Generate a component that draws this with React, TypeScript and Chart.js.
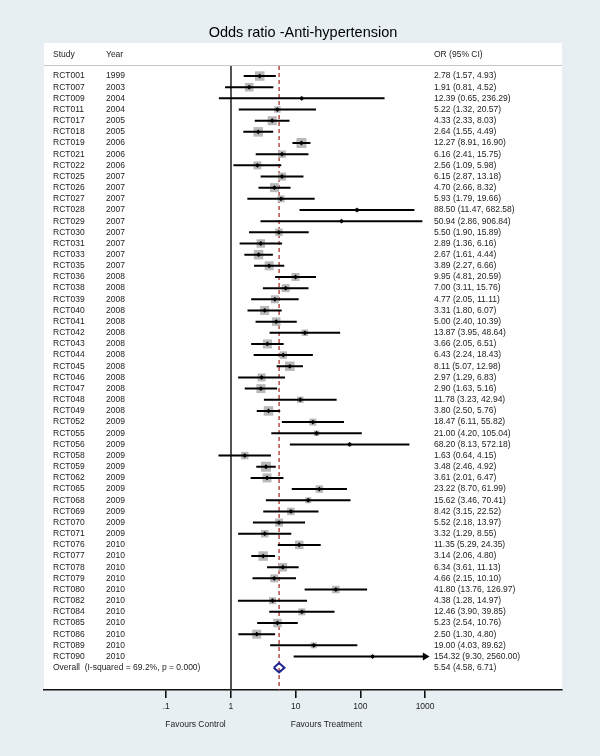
import React, { useEffect, useRef } from 'react';
import { Chart, registerables } from 'chart.js';

Chart.register(...registerables);

// ---------------- data ----------------
const chartTitle = 'Odds ratio -Anti-hypertension';
const headerLabels = ['Study', 'Year', 'OR (95% CI)'];

const studies = [
  'RCT001', 'RCT007', 'RCT009', 'RCT011', 'RCT017', 'RCT018', 'RCT019', 'RCT021', 'RCT022',
  'RCT025', 'RCT026', 'RCT027', 'RCT028', 'RCT029', 'RCT030', 'RCT031', 'RCT033', 'RCT035',
  'RCT036', 'RCT038', 'RCT039', 'RCT040', 'RCT041', 'RCT042', 'RCT043', 'RCT044', 'RCT045',
  'RCT046', 'RCT047', 'RCT048', 'RCT049',
  'RCT052', 'RCT055', 'RCT056', 'RCT058', 'RCT059', 'RCT062', 'RCT065', 'RCT068', 'RCT069',
  'RCT070', 'RCT071',
  'RCT076', 'RCT077', 'RCT078', 'RCT079', 'RCT080', 'RCT082', 'RCT084', 'RCT085', 'RCT086',
  'RCT089', 'RCT090',
];

const years = [
  1999, 2003, 2004, 2004, 2005, 2005, 2006, 2006, 2006,
  2007, 2007, 2007, 2007, 2007, 2007, 2007, 2007, 2007,
  2008, 2008, 2008, 2008, 2008, 2008, 2008, 2008, 2008,
  2008, 2008, 2008, 2008,
  2009, 2009, 2009, 2009, 2009, 2009, 2009, 2009, 2009,
  2009, 2009,
  2010, 2010, 2010, 2010, 2010, 2010, 2010, 2010, 2010,
  2010, 2010,
];

const oddsRatios = [
  2.78, 1.91, 12.39, 5.22, 4.33, 2.64, 12.27, 6.16, 2.56,
  6.15, 4.70, 5.93, 88.50, 50.94, 5.50, 2.89, 2.67, 3.89,
  9.95, 7.00, 4.77, 3.31, 5.00, 13.87, 3.66, 6.43, 8.11,
  2.97, 2.90, 11.78, 3.80,
  18.47, 21.00, 68.20, 1.63, 3.48, 3.61, 23.22, 15.62, 8.42,
  5.52, 3.32,
  11.35, 3.14, 6.34, 4.66, 41.80, 4.38, 12.46, 5.23, 2.50,
  19.00, 154.32,
];

const ciLower = [
  1.57, 0.81, 0.65, 1.32, 2.33, 1.55, 8.91, 2.41, 1.09,
  2.87, 2.66, 1.79, 11.47, 2.86, 1.90, 1.36, 1.61, 2.27,
  4.81, 3.11, 2.05, 1.80, 2.40, 3.95, 2.05, 2.24, 5.07,
  1.29, 1.63, 3.23, 2.50,
  6.11, 4.20, 8.13, 0.64, 2.46, 2.01, 8.70, 3.46, 3.15,
  2.18, 1.29,
  5.29, 2.06, 3.61, 2.15, 13.76, 1.28, 3.90, 2.54, 1.30,
  4.03, 9.30,
];

const ciUpper = [
  4.93, 4.52, 236.29, 20.57, 8.03, 4.49, 16.90, 15.75, 5.98,
  13.18, 8.32, 19.66, 682.58, 906.84, 15.89, 6.16, 4.44, 6.66,
  20.59, 15.76, 11.11, 6.07, 10.39, 48.64, 6.51, 18.43, 12.98,
  6.83, 5.16, 42.94, 5.76,
  55.82, 105.04, 572.18, 4.15, 4.92, 6.47, 61.99, 70.41, 22.52,
  13.97, 8.55,
  24.35, 4.80, 11.13, 10.10, 126.97, 14.97, 39.85, 10.76, 4.80,
  89.62, 2560.00,
];

// study weights (%), estimated from the size of the grey boxes
const weights = [
  2.20, 1.76, 0.30, 1.03, 1.98, 2.20, 2.44, 1.37, 1.56,
  1.56, 1.98, 1.20, 0.39, 0.22, 1.37, 1.76, 2.20, 1.98,
  1.56, 1.56, 1.56, 1.98, 1.76, 1.03, 1.98, 1.37, 2.20,
  1.56, 1.98, 1.03, 2.20,
  1.20, 0.74, 0.39, 1.37, 2.44, 1.98, 1.37, 0.88, 1.37,
  1.56, 1.37,
  1.76, 2.20, 1.76, 1.56, 1.37, 1.20, 1.20, 1.76, 1.98,
  0.88, 0.22,
];

const overallLabel = 'Overall  (I-squared = 69.2%, p = 0.000)';
const overallOR = 5.54;
const overallLower = 4.58;
const overallUpper = 6.71;

const tickValues = [0.1, 1, 10, 100, 1000];
const tickLabels = ['.1', '1', '10', '100', '1000'];
const favoursLabels = ['Favours Control', 'Favours Treatment'];
const nullValue = 1;
const axisUpperLimit = 1000;

// ---------------- layout / style ----------------
const W = 600;
const H = 756;
const BG = '#e7eff2';
const FONT = '"Liberation Sans", Arial, Helvetica, sans-serif';
const TEXT = '#222222';
const X_MIN = Math.pow(10, -2.89);
const X_MAX = Math.pow(10, 5.116);
const Y_MIN = -0.9;
const Y_MAX = 55;
const PANEL_TOP = 43;

const fmt = (v: number) => v.toFixed(2);

export default function App() {
  const ref = useRef<HTMLCanvasElement | null>(null);

  useEffect(() => {
    document.body.style.margin = '0';
    const canvas = ref.current;
    if (!canvas) return;

    const n = studies.length;
    const overallRow = n;

    const ciData: any[] = [];
    studies.forEach((_, i) => {
      ciData.push({ x: ciLower[i], y: i });
      ciData.push({ x: Math.min(ciUpper[i], axisUpperLimit), y: i });
      ciData.push({ x: null, y: null });
    });
    const pointData = oddsRatios.map((v, i) => ({ x: v, y: i }));
    const boxRadius = weights.map((w) => 4.53 * Math.sqrt(w));
    const arrowData = ciUpper
      .map((v, i) => (v > axisUpperLimit ? { x: axisUpperLimit, y: i } : null))
      .filter((p) => p !== null);
    const dh = 0.42;
    const diamond = [
      { x: overallLower, y: overallRow },
      { x: overallOR, y: overallRow - dh },
      { x: overallUpper, y: overallRow },
      { x: overallOR, y: overallRow + dh },
      { x: overallLower, y: overallRow },
    ];

    const decor = {
      id: 'decor',
      beforeDraw(chart: any) {
        const { ctx, chartArea: a } = chart;
        ctx.save();
        ctx.fillStyle = BG;
        ctx.fillRect(0, 0, W, H);
        ctx.fillStyle = '#ffffff';
        ctx.fillRect(a.left, PANEL_TOP, a.right - a.left, a.bottom - PANEL_TOP);
        ctx.strokeStyle = '#c8c8c8';
        ctx.lineWidth = 1;
        ctx.beginPath();
        ctx.moveTo(a.left, a.top - 0.5);
        ctx.lineTo(a.right, a.top - 0.5);
        ctx.stroke();
        ctx.restore();
      },
      afterDraw(chart: any) {
        const { ctx, chartArea: a } = chart;
        const ys = chart.scales.y;
        const xs = chart.scales.x;
        const colStudy = a.left + 9;
        const colYear = a.left + 62;
        const colOR = a.left + 390;
        ctx.save();
        ctx.fillStyle = '#000';
        ctx.textBaseline = 'middle';
        ctx.textAlign = 'center';
        ctx.font = `14.5px ${FONT}`;
        ctx.fillText(chartTitle, (a.left + a.right) / 2, 33);

        ctx.fillStyle = TEXT;
        ctx.textAlign = 'left';
        ctx.font = `8.5px ${FONT}`;
        const hy = 54.5;
        ctx.fillText(headerLabels[0], colStudy, hy);
        ctx.fillText(headerLabels[1], colYear, hy);
        ctx.fillText(headerLabels[2], colOR, hy);

        studies.forEach((s, i) => {
          const y = ys.getPixelForValue(i);
          ctx.fillText(s, colStudy, y);
          ctx.fillText(String(years[i]), colYear, y);
          ctx.fillText(`${fmt(oddsRatios[i])} (${fmt(ciLower[i])}, ${fmt(ciUpper[i])})`, colOR, y);
        });
        const oy = ys.getPixelForValue(overallRow);
        ctx.fillText(overallLabel, colStudy, oy);
        ctx.fillText(`${fmt(overallOR)} (${fmt(overallLower)}, ${fmt(overallUpper)})`, colOR, oy);

        const fy = 725;
        ctx.fillText(favoursLabels[0], xs.getPixelForValue(tickValues[0]) - 1, fy);
        ctx.fillText(favoursLabels[1], xs.getPixelForValue(tickValues[2]) - 5, fy);
        ctx.restore();
      },
    };

    const chart = new Chart(canvas, {
      type: 'scatter',
      data: {
        datasets: [
          {
            label: 'null line',
            data: [{ x: nullValue, y: Y_MIN }, { x: nullValue, y: Y_MAX }],
            showLine: true,
            borderColor: '#2a2a2a',
            borderWidth: 1.6,
            pointRadius: 0,
            order: 6,
          },
          {
            label: 'overall line',
            data: [{ x: overallOR, y: Y_MIN }, { x: overallOR, y: Y_MAX }],
            showLine: true,
            borderColor: '#a8322d',
            borderWidth: 1.3,
            borderDash: [4, 3],
            pointRadius: 0,
            order: 5,
          },
          {
            label: 'weights',
            data: pointData,
            pointStyle: 'rect',
            pointRadius: boxRadius,
            backgroundColor: '#b9b9b9',
            borderWidth: 0,
            order: 4,
          },
          {
            label: 'CI',
            data: ciData,
            showLine: true,
            spanGaps: false,
            borderColor: '#000',
            borderWidth: 2,
            pointRadius: 0,
            order: 3,
          },
          {
            label: 'OR',
            data: pointData,
            pointStyle: 'rectRot',
            pointRadius: 2.4,
            backgroundColor: '#000',
            borderWidth: 0,
            order: 2,
          },
          {
            label: 'arrow',
            data: arrowData,
            pointStyle: 'triangle',
            rotation: 90,
            pointRadius: 4.5,
            backgroundColor: '#000',
            borderWidth: 0,
            order: 2,
          },
          {
            label: 'overall',
            data: diamond,
            showLine: true,
            borderColor: '#1f2390',
            borderWidth: 2,
            pointRadius: 0,
            fill: false,
            order: 1,
          },
        ] as any,
      },
      options: {
        responsive: false,
        maintainAspectRatio: false,
        animation: false,
        events: [],
        layout: { padding: { top: 66, left: 44, right: 38, bottom: 0 } },
        plugins: {
          legend: { display: false },
          tooltip: { enabled: false },
          title: { display: false },
        },
        scales: {
          x: {
            type: 'logarithmic',
            position: 'bottom',
            bounds: 'data',
            min: X_MIN,
            max: X_MAX,
            afterBuildTicks: (s: any) => {
              s.ticks = tickValues.map((v) => ({ value: v }));
            },
            afterFit: (s: any) => {
              s.height = H - 690;
            },
            grid: {
              drawOnChartArea: false,
              drawTicks: true,
              tickLength: 8,
              color: '#111',
              lineWidth: 1.6,
            },
            border: { display: true, color: '#111', width: 1.6 },
            ticks: {
              autoSkip: false,
              maxRotation: 0,
              padding: 4,
              color: TEXT,
              font: { family: FONT, size: 8.5 },
              callback: (v: any) => {
                const k = tickValues.indexOf(Number(v));
                return k >= 0 ? tickLabels[k] : '';
              },
            },
          },
          y: {
            type: 'linear',
            reverse: true,
            min: Y_MIN,
            max: Y_MAX,
            display: false,
          },
        },
      } as any,
      plugins: [decor],
    });

    return () => chart.destroy();
  }, []);

  return (
    <div style={{ width: W, height: H }}>
      <canvas ref={ref} width={W} height={H} style={{ display: 'block' }} />
    </div>
  );
}
